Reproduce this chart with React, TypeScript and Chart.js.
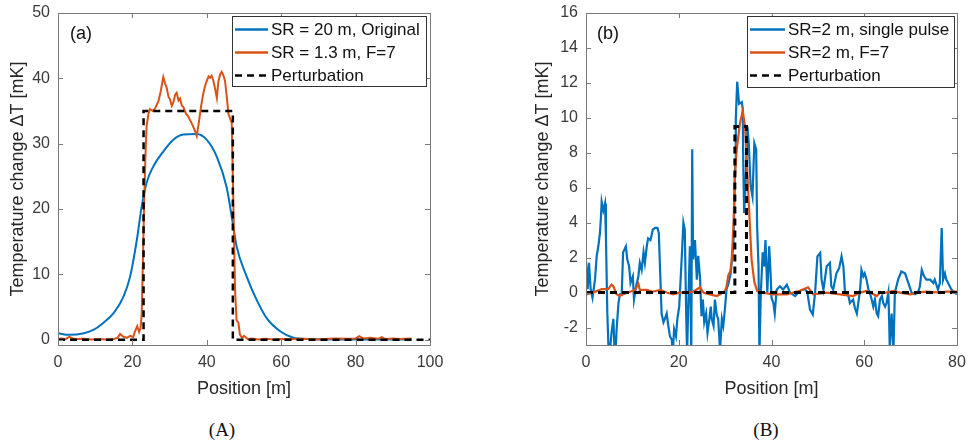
import React, { useEffect, useRef } from "react";
import Chart from "chart.js/auto";

// ---------- Panel (a) data ----------
const xTicksA = [0, 20, 40, 60, 80, 100];
const yTicksA = [0, 10, 20, 30, 40, 50];

const posA_orig = [0, 3, 7, 9.5, 12, 15, 17.6, 19.4, 21.2, 22.5, 23.8, 25.6, 28.3, 31, 33.7, 37.3, 40, 42.7, 45.3, 47, 48, 50.7, 53.4, 56.1, 59.7, 63.3, 67, 75, 85, 95];
const valA_orig = [1.0, 0.75, 1.0, 1.5, 2.5, 4.1, 6.6, 9.7, 15.3, 20.4, 24, 26.5, 28.8, 30.6, 31.4, 31.5, 30.6, 28, 23.4, 17.8, 14.3, 9.7, 6.1, 3.3, 1.3, 0.3, 0.1, 0.05, 0.05, 0.05];

const posA_f7 = [0, 1, 2, 3, 4, 5, 7, 9, 11, 13, 15, 16, 16.7, 17.5, 18.5, 19.4, 20.2, 20.7, 21.3, 21.8, 22.2, 22.5, 22.9, 23.2, 23.5, 23.8, 24.3, 24.7, 25.5, 26.2, 27, 27.6, 28.3, 28.8, 29.2, 29.7, 30.1, 30.6, 31, 31.5, 31.9, 32.4, 32.8, 33.3, 33.7, 34.4, 35, 35.5, 36.2, 36.8, 37.3, 37.8, 38.4, 39, 39.5, 40, 40.5, 40.9, 41.3, 41.7, 42.2, 42.7, 43.1, 43.6, 44, 44.5, 44.9, 45.4, 45.8, 46.3, 46.7, 47.1, 47.6, 48, 48.5, 48.9, 49.5, 50, 51, 52, 54, 56, 58, 60, 63, 66, 70, 74, 78, 80, 81, 82, 84, 86, 87, 88, 90, 92, 95];
const valA_f7 = [0.1, 0.2, 0.1, 0.45, 0.2, 0.1, 0.15, 0.05, 0.1, 0.05, 0.1, 0.3, 0.9, 0.5, 0.3, 0.6, 0.4, 1.3, 2.1, 1.2, 1.8, 4, 14, 22, 28, 32.6, 34.5, 35.3, 35, 35.5, 36.5, 38, 40.2, 39.2, 38.6, 37.2, 36.8, 35.8, 36.3, 37.5, 37.8, 36.6, 36.9, 35.8, 35.6, 34.6, 34.2, 33.6, 32.8, 32, 31.2, 33, 35.5, 37.5, 38.8, 39.6, 40.3, 40.1, 40.4, 39.8, 38.5, 37, 39.5, 40.6, 41, 40.4, 39.6, 37, 34.6, 33.8, 33.2, 22, 7.5, 3, 2.6, 0.8, 0.3, 0.6, 0.1, 0.2, 0.05, 0.15, 0.05, 0.1, 0.1, 0.15, 0.05, 0.2, 0.15, 0.2, 0.55, 0.2, 0.3, 0.15, 0.4, 0.1, 0.2, 0.1, 0.2];

const posA_pert = [0, 23, 23, 47, 47, 100];
const valA_pert = [0, 0, 35, 35, 0, 0];

// ---------- Panel (b) data ----------
const xTicksB = [0, 20, 40, 60, 80];
const yTicksB = [-2, 0, 2, 4, 6, 8, 10, 12, 14, 16];

const posB_single = [0, 0.36, 0.65, 1.0, 1.4, 1.94, 2.3, 2.66, 3.0, 3.2, 3.38, 3.74, 4.1, 4.3, 4.6, 4.96, 5.5, 5.9, 6.25, 6.6, 7.0, 7.3, 7.7, 8.0, 8.6, 8.9, 9.3, 9.6, 10.1, 10.35, 10.8, 11.3, 11.6, 12.0, 12.4, 12.7, 13.1, 13.4, 13.9, 14.4, 14.9, 15.4, 15.7, 16.0, 16.3, 16.7, 17.0, 17.4, 17.75, 18.1, 18.5, 18.7, 19.0, 19.4, 19.7, 20.1, 20.4, 20.7, 21.0, 21.3, 21.6, 21.8, 22.1, 22.4, 22.7, 22.9, 23.1, 23.5, 23.9, 24.2, 24.6, 24.9, 25.2, 25.5, 25.9, 26.2, 26.6, 26.9, 27.1, 27.5, 27.8, 28.2, 28.5, 28.9, 29.3, 29.6, 30.0, 30.3, 30.7, 31.2, 31.8, 32.0, 32.2, 32.3, 32.6, 33.0, 33.6, 33.8, 33.9, 34.1, 34.4, 34.8, 35.1, 35.5, 35.9, 36.3, 36.7, 36.9, 37.2, 37.4, 37.7, 38.1, 38.4, 38.7, 39.1, 39.5, 39.8, 40.0, 40.4, 40.7, 41.1, 41.8, 42.5, 43.3, 44.0, 45.1, 46.1, 47.2, 47.7, 48.3, 48.9, 49.4, 49.9, 50.5, 50.8, 51.2, 51.9, 52.6, 52.9, 53.3, 54.0, 54.6, 55.1, 55.5, 55.85, 56.6, 56.9, 57.6, 58.0, 58.4, 59.1, 59.4, 59.8, 60.1, 60.5, 60.9, 61.2, 61.6, 61.95, 62.3, 62.7, 63.0, 63.4, 63.8, 64.1, 64.5, 64.8, 65.2, 65.4, 65.5, 65.9, 66.3, 66.6, 67.3, 68.0, 68.8, 69.5, 70.2, 70.9, 71.6, 72.0, 72.4, 72.9, 73.4, 74.2, 74.9, 75.2, 75.9, 76.3, 76.7, 77.0, 77.4, 77.7, 78.1, 78.8, 79.5, 80];
const valB_single = [1.8, 0.2, 1.7, 0.2, -0.3, 0.74, 2.07, 2.65, 3.4, 4.2, 5.2, 4.7, 5.1, 3.2, -1.2, -4, -2.3, -1.5, -4, -2.1, -0.6, -0.1, -0.1, 2.3, 2.65, 1.9, 1.5, 0.55, 0.93, -0.4, 0.36, 0.93, 1.7, 1.3, 2.3, 1.7, 2.65, 3.1, 3.0, 3.6, 3.7, 3.7, 3.4, 1.1, -1.2, -1.7, -1.5, -1.2, -1.9, -2.5, -2.7, -3.5, -2.1, -2.5, -1.5, -0.8, 0.74, 2.3, 4.0, 3.6, -1.2, -3.5, -0.2, 2.65, -3.5, 8.2, 1.9, 3.0, 0.74, 2.1, 0.8, -1.35, -0.4, -1.7, -1.2, -2.3, -1.5, -0.8, -1.5, -1.9, -0.4, -1.3, -1.5, -3.3, -1.5, -1.9, -0.8, 0.2, 0.5, 1.1, 2.8, 5.3, 7.6, 9.9, 12.07, 10.8, 10.9, 10.5, 7.6, 4.55, 6.1, 9.5, 8.55, 6.1, 5.5, 8.55, 8.2, 3.8, 1.5, -3.5, 0.0, 2.3, 1.5, 3.0, 0, 2.65, 1.1, -0.3, -0.6, -1.2, 0.17, 0.36, 0.17, 0.45, 0, -0.2, 0.1, 0.2, 0.05, -0.97, -1.25, 0, 2.07, 2.27, 0.74, 0.17, 1.5, 1.7, 0.36, 0.17, 1.1, 1.4, 2.07, 1.5, 0, -0.2, -0.6, -0.4, -0.9, -1.2, 0.17, 1.3, 0.93, 1.1, 0.74, 0.17, 0, -0.4, -0.8, -0.4, -1.2, -1.35, -0.4, -0.2, -0.6, -0.8, -0.6, 0, -1.9, -3.3, -1.2, -3.3, 0, 0.74, 1.2, 1.1, 0.55, 0, -0.1, 0, 0.36, 1.3, 0.93, 0.74, 0.74, 0.55, 0.74, 0.17, 0.55, 3.7, 0.74, 1.1, 0.74, 0.55, 0.17, 0, -0.1];

const posB_f7 = [0, 1.5, 3.4, 4.8, 5.5, 5.9, 6.6, 7.3, 8, 9.5, 10.6, 11.3, 11.6, 13.1, 14.4, 16, 17.4, 18.8, 20.1, 21.6, 23.1, 24.6, 25.3, 26.7, 28.2, 28.9, 30, 30.3, 30.7, 31.1, 31.4, 31.8, 32.1, 32.5, 33.2, 33.8, 34.3, 35, 35.7, 36.3, 36.9, 38, 40.4, 43.3, 46.1, 47.9, 49, 51.9, 54.8, 57.6, 59.1, 60.5, 62, 62.7, 63.4, 64.8, 66.3, 67.7, 69.9, 71.3, 73.4, 76.3, 77.8, 80];
const valB_f7 = [-0.1, 0, 0.2, 0.2, 0.45, 0.36, -0.1, -0.2, -0.1, 0.05, 0.15, 0.5, 0.15, 0.15, 0.05, 0.15, 0, -0.1, 0, 0, 0.05, 0.3, 0, -0.1, -0.2, -0.1, 0.1, 0.36, 1.0, 1.2, 1.8, 3.8, 6.6, 8.2, 9.7, 10.4, 9.5, 5.7, 1.9, 0.6, 0.1, 0, -0.1, -0.1, 0.1, 0.3, -0.1, 0, -0.1, -0.2, 0, 0.1, -0.1, -0.2, 0, 0, 0.1, 0, -0.1, 0, 0.05, 0, 0.05, 0.05];

const posB_pert = [0, 32.1, 32.1, 34.6, 34.6, 80];
const valB_pert = [0, 0, 9.5, 9.5, 0, 0];

// ---------- styling ----------
const BLUE = "#0072BD";
const ORANGE = "#D95319";
const FONT = "'Liberation Sans', Arial, sans-serif";
const AXIS_COLOR = "#7a7a7a";
const LABEL_COLOR = "#3a3a3a";

const pts = (xs: number[], ys: number[]) => xs.map((x, i) => ({ x, y: ys[i] }));

type LegendSpec = { w: number; h: number; offRight: number; offTop: number; sampleLen: number; textGap: number };

function makeFramePlugin(tag: string, tagDx: number, lg: LegendSpec) {
  return {
    id: "frame",
    afterDatasetsDraw(chart: any) {
      const { ctx, chartArea } = chart;
      const { left, right, top, bottom } = chartArea;
      const xs = chart.scales.x;
      const ys = chart.scales.y;
      ctx.save();
      ctx.strokeStyle = AXIS_COLOR;
      ctx.lineWidth = 1;
      ctx.setLineDash([]);
      ctx.strokeRect(Math.round(left) + 0.5, Math.round(top) + 0.5, Math.round(right - left), Math.round(bottom - top));
      const tl = 5;
      ctx.beginPath();
      xs.ticks.forEach((t: any) => {
        const px = Math.round(xs.getPixelForValue(t.value)) + 0.5;
        ctx.moveTo(px, bottom);
        ctx.lineTo(px, bottom - tl);
        ctx.moveTo(px, top);
        ctx.lineTo(px, top + tl);
      });
      ys.ticks.forEach((t: any) => {
        const py = Math.round(ys.getPixelForValue(t.value)) + 0.5;
        ctx.moveTo(left, py);
        ctx.lineTo(left + tl, py);
        ctx.moveTo(right, py);
        ctx.lineTo(right - tl, py);
      });
      ctx.stroke();
      ctx.fillStyle = "#111";
      ctx.font = `18px ${FONT}`;
      ctx.textBaseline = "middle";
      ctx.textAlign = "left";
      ctx.fillText(tag, left + tagDx, top + 21);
      const bx = Math.round(right - lg.offRight - lg.w);
      const by = Math.round(top + lg.offTop);
      ctx.fillStyle = "#ffffff";
      ctx.fillRect(bx, by, lg.w, lg.h);
      ctx.strokeStyle = "#333";
      ctx.lineWidth = 1;
      ctx.strokeRect(bx + 0.5, by + 0.5, lg.w, lg.h);
      ctx.font = `17px ${FONT}`;
      chart.data.datasets.forEach((ds: any, i: number) => {
        const y = by + 13.5 + i * 23;
        ctx.strokeStyle = ds.borderColor;
        ctx.lineWidth = ds.borderDash ? 2.6 : 2.4;
        ctx.setLineDash(ds.borderDash || []);
        ctx.beginPath();
        ctx.moveTo(bx + 3, y);
        ctx.lineTo(bx + 3 + lg.sampleLen, y);
        ctx.stroke();
        ctx.setLineDash([]);
        ctx.fillStyle = "#111";
        ctx.fillText(ds.label, bx + 3 + lg.sampleLen + lg.textGap, y + 1);
      });
      ctx.restore();
    },
  };
}

type PanelProps = {
  left: number;
  width: number;
  height: number;
  padRight: number;
  yAxisWidth: number;
  xMin: number;
  xMax: number;
  yMin: number;
  yMax: number;
  xTicks: number[];
  yTicks: number[];
  datasets: any[];
  tag: string;
  tagDx: number;
  legend: LegendSpec;
};

function Panel(p: PanelProps) {
  const ref = useRef<HTMLCanvasElement | null>(null);
  useEffect(() => {
    if (!ref.current) return;
    const tickFont = { family: FONT, size: 16 };
    const titleFont = { family: FONT, size: 18 };
    const chart = new Chart(ref.current, {
      type: "line",
      data: { datasets: p.datasets },
      options: {
        animation: false,
        responsive: false,
        devicePixelRatio: 1,
        layout: { padding: { top: 13, right: p.padRight, left: 0, bottom: 0 } },
        plugins: { legend: { display: false }, tooltip: { enabled: false } },
        elements: { point: { radius: 0 }, line: { tension: 0 } },
        scales: {
          x: {
            type: "linear",
            min: p.xMin,
            max: p.xMax,
            grid: { display: false, drawTicks: false },
            border: { display: false },
            afterBuildTicks: (s: any) => {
              s.ticks = p.xTicks.map((v) => ({ value: v }));
            },
            afterFit: (s: any) => {
              s.height = 55;
              s.paddingLeft = 0;
              s.paddingRight = 0;
            },
            ticks: { font: tickFont, color: LABEL_COLOR, padding: 8, autoSkip: false, maxRotation: 0 },
            title: { display: true, text: "Position [m]", font: titleFont, color: "#262626", padding: { top: 0, bottom: 0 } },
          },
          y: {
            type: "linear",
            min: p.yMin,
            max: p.yMax,
            grid: { display: false, drawTicks: false },
            border: { display: false },
            afterBuildTicks: (s: any) => {
              s.ticks = p.yTicks.map((v) => ({ value: v }));
            },
            afterFit: (s: any) => {
              s.width = p.yAxisWidth;
              s.paddingTop = 0;
              s.paddingBottom = 0;
            },
            ticks: { font: tickFont, color: LABEL_COLOR, padding: 8, autoSkip: false },
            title: { display: true, text: "Temperature change \u0394T [mK]", font: titleFont, color: "#262626", padding: { top: 7, bottom: 0 } },
          },
        },
      } as any,
      plugins: [makeFramePlugin(p.tag, p.tagDx, p.legend)],
    });
    return () => chart.destroy();
  }, []);
  return (
    <canvas
      ref={ref}
      width={p.width}
      height={p.height}
      style={{ position: "absolute", left: p.left, top: 0, width: p.width, height: p.height }}
    />
  );
}

export default function App() {
  const dsA = [
    { label: "SR = 20 m, Original", data: pts(posA_orig, valA_orig), borderColor: BLUE, borderWidth: 2, cubicInterpolationMode: "monotone", order: 3 },
    { label: "SR = 1.3 m, F=7", data: pts(posA_f7, valA_f7), borderColor: ORANGE, borderWidth: 2, order: 2 },
    { label: "Perturbation", data: pts(posA_pert, valA_pert), borderColor: "#000", borderWidth: 2.5, borderDash: [7, 5], order: 1 },
  ];
  const dsB = [
    { label: "SR=2 m, single pulse", data: pts(posB_single, valB_single), borderColor: BLUE, borderWidth: 2.2, order: 3 },
    { label: "SR=2 m, F=7", data: pts(posB_f7, valB_f7), borderColor: ORANGE, borderWidth: 2.2, order: 2 },
    { label: "Perturbation", data: pts(posB_pert, valB_pert), borderColor: "#000", borderWidth: 3, borderDash: [7, 5], order: 1 },
  ];
  const caption: React.CSSProperties = {
    position: "absolute",
    top: 430,
    transform: "translate(-50%, -50%)",
    fontFamily: "'Liberation Serif', 'DejaVu Serif', serif",
    fontSize: 19,
    color: "#111",
    whiteSpace: "nowrap",
  };
  return (
    <div style={{ position: "absolute", left: 0, top: 0, width: 971, height: 446, background: "#fff", overflow: "hidden" }}>
      <Panel
        left={0}
        width={470}
        height={400}
        padRight={40}
        yAxisWidth={58}
        xMin={0}
        xMax={100}
        yMin={-0.8}
        yMax={50}
        xTicks={xTicksA}
        yTicks={yTicksA}
        datasets={dsA}
        tag="(a)"
        tagDx={12}
        legend={{ w: 194, h: 70, offRight: 4, offTop: 3, sampleLen: 33, textGap: 3 }}
      />
      <Panel
        left={525}
        width={446}
        height={400}
        padRight={14}
        yAxisWidth={61}
        xMin={0}
        xMax={80}
        yMin={-3}
        yMax={16}
        xTicks={xTicksB}
        yTicks={yTicksB}
        datasets={dsB}
        tag="(b)"
        tagDx={11}
        legend={{ w: 207, h: 71, offRight: 3, offTop: 3, sampleLen: 35, textGap: 3 }}
      />
      <div style={{ ...caption, left: 222 }}>(A)</div>
      <div style={{ ...caption, left: 766 }}>(B)</div>
    </div>
  );
}
